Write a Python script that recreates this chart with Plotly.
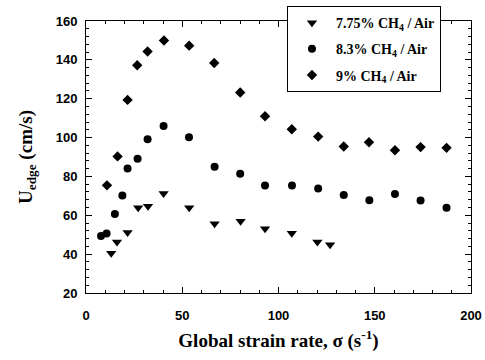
import plotly.graph_objects as go

# 7.75% CH4 / Air
x1 = [13.1, 16.1, 21.6, 27.1, 32.2, 40.3, 53.6, 66.8, 80.3, 93.0, 106.9, 120.2, 126.8]
y1 = [40.4, 46.3, 51.1, 63.9, 64.7, 71.2, 63.9, 55.7, 56.9, 53.1, 50.7, 46.3, 44.8]
# 8.3% CH4 / Air
x2 = [7.8, 10.7, 15.0, 18.9, 21.6, 26.8, 32.0, 40.3, 53.5, 66.8, 80.1, 93.0, 107.0, 120.6, 133.9, 147.2, 160.5, 173.8, 187.3]
y2 = [49.4, 50.6, 60.6, 70.2, 84.1, 89.1, 99.2, 106.0, 100.2, 85.0, 81.4, 75.3, 75.3, 73.8, 70.5, 67.8, 70.9, 67.6, 63.9]
# 9% CH4 / Air
x3 = [10.9, 16.4, 21.6, 26.6, 32.0, 40.5, 53.6, 66.6, 80.1, 93.0, 106.9, 120.6, 133.9, 147.0, 160.5, 173.8, 187.3]
y3 = [75.4, 90.3, 119.4, 137.2, 144.3, 150.0, 147.3, 138.4, 123.2, 111.0, 104.3, 100.5, 95.4, 97.6, 93.5, 95.1, 94.7]

names = ["7.75% CH<sub>4</sub> / Air", "8.3% CH<sub>4</sub> / Air", "9% CH<sub>4</sub> / Air"]

fig = go.Figure()
fig.add_trace(go.Scatter(x=x1, y=y1, mode="markers", name=names[0], legendgroup="a",
                         marker=dict(symbol="triangle-down", size=9, color="black")))
fig.add_trace(go.Scatter(x=x2, y=y2, mode="markers", name=names[1], legendgroup="b",
                         marker=dict(symbol="circle", size=8, color="black")))
fig.add_trace(go.Scatter(x=x3, y=y3, mode="markers", name=names[2], legendgroup="c",
                         marker=dict(symbol="diamond", size=8, color="black")))

tickfont = dict(family="Liberation Sans, Arial", size=13, color="black", weight="bold")
titlefont = dict(family="Liberation Serif, Times New Roman", size=19, color="black", weight="bold")

axis_common = dict(showgrid=False, zeroline=False, showline=True, linecolor="black",
                   linewidth=1, mirror="ticks", ticks="inside", ticklen=6,
                   tickcolor="black", tickfont=tickfont, automargin=False)

fig.update_xaxes(range=[0, 200], dtick=50, tick0=0, ticklabelstandoff=10,
                 minor=dict(dtick=10, ticks="inside", ticklen=3, tickcolor="black"),
                 title=dict(text="Global strain rate, σ (s<sup>-1</sup>)", font=titlefont, standoff=12),
                 **axis_common)
fig.update_yaxes(range=[20, 160], dtick=20, tick0=20, ticklabelstandoff=5,
                 minor=dict(dtick=4, ticks="inside", ticklen=3, tickcolor="black"),
                 title=dict(text="U<sub>edge</sub> (cm/s)", font=titlefont, standoff=18),
                 **axis_common)

fig.update_layout(
    width=485, height=360,
    margin=dict(l=86, r=14, t=21, b=67, autoexpand=False),
    plot_bgcolor="white", paper_bgcolor="white",
    showlegend=True,
    legend=dict(x=0.522, y=1.055, xanchor="left", yanchor="top",
                bgcolor="white", bordercolor="black", borderwidth=1,
                font=dict(family="Liberation Serif, Times New Roman", size=14, color="black", weight="bold"),
                itemwidth=38, tracegroupgap=5),
)

fig.write_html("out.html", config={"displayModeBar": False},
               post_script="document.body.style.margin='0px';")
